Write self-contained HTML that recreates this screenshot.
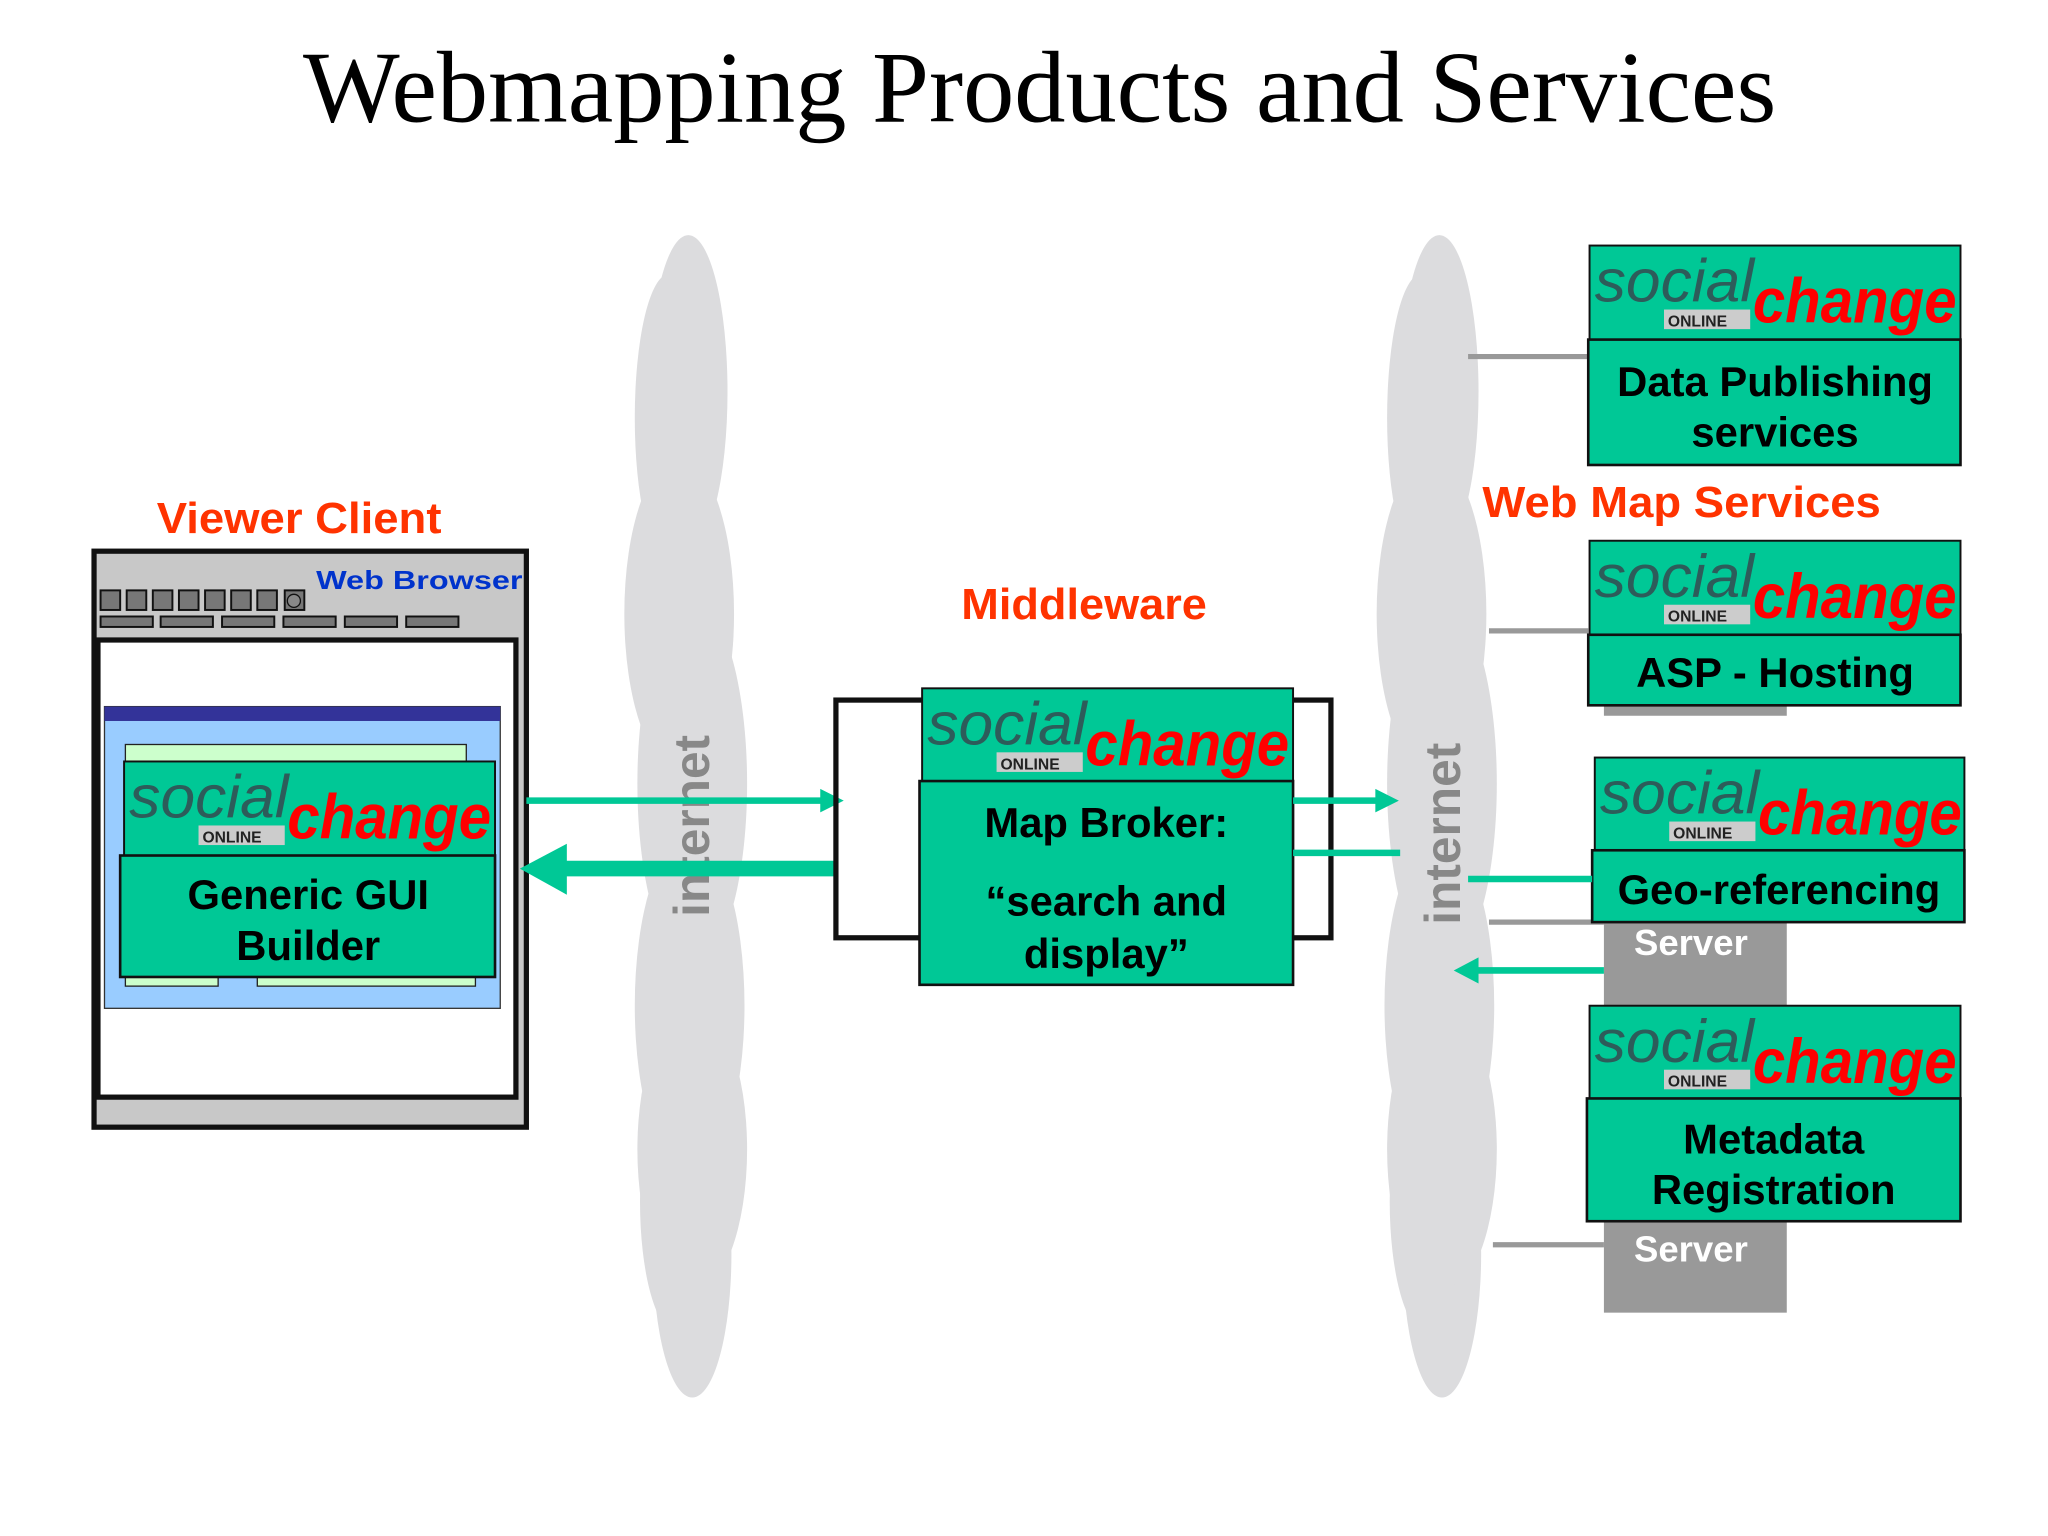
<!DOCTYPE html>
<html><head><meta charset="utf-8"><style>
html,body{margin:0;padding:0;background:#fff;}
svg{display:block;}
text{font-family:"Liberation Sans",sans-serif;}
.t{font-family:"Liberation Serif",serif;}
.lab{fill:#ff3300;font-weight:bold;font-size:33px;}
.bt{fill:#000;font-weight:bold;font-size:32px;text-anchor:middle;}
.so{fill:#2d5c5a;font-style:italic;font-size:46px;}
.ch{fill:#ff0000;font-style:italic;font-weight:bold;font-size:48px;}
.on{fill:#222;font-weight:bold;font-size:12px;}
.it{fill:#888;font-weight:bold;font-size:38px;}
.sv{fill:#fff;font-weight:bold;font-size:28px;}
</style></head><body>
<svg width="2048" height="1536" viewBox="0 0 1568 1176" xmlns="http://www.w3.org/2000/svg">
<rect width="1568" height="1176" fill="#fff"/>
<text class="t" x="232" y="93" font-size="78" textLength="1128" lengthAdjust="spacingAndGlyphs">Webmapping Products and Services</text>

<g fill="#dcdcde">
<ellipse cx="527" cy="300" rx="30" ry="120"/>
<ellipse cx="512" cy="320" rx="26" ry="110"/>
<ellipse cx="520" cy="470" rx="42" ry="120"/>
<ellipse cx="530" cy="600" rx="42" ry="140"/>
<ellipse cx="528" cy="770" rx="42" ry="130"/>
<ellipse cx="530" cy="880" rx="42" ry="110"/>
<ellipse cx="530" cy="960" rx="30" ry="110"/>
<ellipse cx="518" cy="920" rx="28" ry="100"/>
</g>
<g fill="#dcdcde">
<ellipse cx="1102" cy="300" rx="30" ry="120"/>
<ellipse cx="1088" cy="320" rx="26" ry="110"/>
<ellipse cx="1096" cy="470" rx="42" ry="120"/>
<ellipse cx="1104" cy="600" rx="42" ry="140"/>
<ellipse cx="1102" cy="770" rx="42" ry="130"/>
<ellipse cx="1104" cy="880" rx="42" ry="110"/>
<ellipse cx="1104" cy="960" rx="30" ry="110"/>
<ellipse cx="1092" cy="920" rx="28" ry="100"/>
</g>
<text class="it" transform="translate(543,702) rotate(-90)">internet</text>
<text class="it" transform="translate(1118,708) rotate(-90)">internet</text>

<text class="lab" x="120" y="408" textLength="218" lengthAdjust="spacingAndGlyphs">Viewer Client</text>
<rect x="72" y="422" width="331" height="441" fill="#c8c8c8" stroke="#111" stroke-width="4"/>
<g fill="#777" stroke="#111" stroke-width="1.5">
<rect x="77" y="452" width="15" height="15"/><rect x="97" y="452" width="15" height="15"/><rect x="117" y="452" width="15" height="15"/><rect x="137" y="452" width="15" height="15"/><rect x="157" y="452" width="15" height="15"/><rect x="177" y="452" width="15" height="15"/><rect x="197" y="452" width="15" height="15"/><rect x="218" y="452" width="15" height="15"/>
<rect x="77" y="472" width="40" height="8"/><rect x="123" y="472" width="40" height="8"/><rect x="170" y="472" width="40" height="8"/><rect x="217" y="472" width="40" height="8"/><rect x="264" y="472" width="40" height="8"/><rect x="311" y="472" width="40" height="8"/>
</g>
<circle cx="225" cy="460" r="5" fill="#888" stroke="#111"/>
<text x="242" y="451" fill="#0033cc" font-weight="bold" font-size="20" font-family="'DejaVu Sans',sans-serif" textLength="158" lengthAdjust="spacingAndGlyphs">Web Browser</text>
<rect x="75" y="490" width="320" height="350" fill="#fff" stroke="#111" stroke-width="4"/>
<rect x="80" y="541" width="303" height="231" fill="#99ccff" stroke="#333" stroke-width="1"/>
<rect x="80" y="541" width="303" height="11" fill="#333399"/>
<rect x="96" y="570" width="261" height="13" fill="#ccffcc" stroke="#222"/>
<rect x="96" y="745" width="71" height="10" fill="#ccffcc" stroke="#222"/>
<rect x="197" y="745" width="167" height="10" fill="#ccffcc" stroke="#222"/>
<rect x="95" y="583" width="284" height="72" fill="#00c896" stroke="#111" stroke-width="1.5"/>
<text class="so" x="99" y="626" textLength="122" lengthAdjust="spacingAndGlyphs">social</text>
<rect x="152" y="632" width="66" height="15" fill="#ccc"/><text class="on" x="155" y="645">ONLINE</text>
<text class="ch" x="220" y="642" textLength="156" lengthAdjust="spacingAndGlyphs">change</text>
<rect x="92" y="655" width="287" height="93" fill="#00c896" stroke="#111" stroke-width="2"/>
<text class="bt" x="236" y="696">Generic GUI</text>
<text class="bt" x="236" y="735">Builder</text>

<line x1="403" y1="613" x2="630" y2="613" stroke="#00c896" stroke-width="5"/>
<polygon points="628,604 646,613 628,622" fill="#00c896"/>
<line x1="430" y1="665" x2="640" y2="665" stroke="#00c896" stroke-width="12"/>
<polygon points="434,646 398,665 434,685" fill="#00c896"/>

<text class="lab" x="736" y="474" textLength="188" lengthAdjust="spacingAndGlyphs">Middleware</text>
<rect x="640" y="536" width="379" height="182" fill="none" stroke="#111" stroke-width="4"/>
<rect x="706" y="527" width="284" height="71" fill="#00c896" stroke="#111" stroke-width="1.5"/>
<text class="so" x="710" y="570" textLength="122" lengthAdjust="spacingAndGlyphs">social</text>
<rect x="763" y="576" width="66" height="15" fill="#ccc"/><text class="on" x="766" y="589">ONLINE</text>
<text class="ch" x="831" y="586" textLength="156" lengthAdjust="spacingAndGlyphs">change</text>
<rect x="704" y="598" width="286" height="156" fill="#00c896" stroke="#111" stroke-width="2"/>
<text class="bt" x="847" y="641">Map Broker:</text>
<text class="bt" x="847" y="701">“search and</text>
<text class="bt" x="847" y="741">display”</text>
<line x1="990" y1="613" x2="1055" y2="613" stroke="#00c896" stroke-width="5"/>
<polygon points="1053,604 1071,613 1053,622" fill="#00c896"/>
<line x1="990" y1="653" x2="1072" y2="653" stroke="#00c896" stroke-width="5"/>

<text class="lab" x="1135" y="396" textLength="305" lengthAdjust="spacingAndGlyphs">Web Map Services</text>
<g stroke="#999" stroke-width="4">
<line x1="1124" y1="273" x2="1216" y2="273"/>
<line x1="1140" y1="483" x2="1216" y2="483"/>
<line x1="1140" y1="706" x2="1228" y2="706"/>
<line x1="1143" y1="953" x2="1228" y2="953"/>
</g>
<rect x="1228" y="536" width="140" height="12" fill="#999"/>
<rect x="1228" y="700" width="140" height="70" fill="#999"/>
<rect x="1228" y="930" width="140" height="75" fill="#999"/>
<text class="sv" x="1251" y="731">Server</text>
<text class="sv" x="1251" y="966">Server</text>

<rect x="1217" y="188" width="284" height="72" fill="#00c896" stroke="#111" stroke-width="1.5"/>
<text class="so" x="1221" y="231" textLength="122" lengthAdjust="spacingAndGlyphs">social</text>
<rect x="1274" y="237" width="66" height="15" fill="#ccc"/><text class="on" x="1277" y="250">ONLINE</text>
<text class="ch" x="1342" y="247" textLength="156" lengthAdjust="spacingAndGlyphs">change</text>
<rect x="1216" y="260" width="285" height="96" fill="#00c896" stroke="#111" stroke-width="2"/>
<text class="bt" x="1359" y="303">Data Publishing</text>
<text class="bt" x="1359" y="342">services</text>

<rect x="1217" y="414" width="284" height="72" fill="#00c896" stroke="#111" stroke-width="1.5"/>
<text class="so" x="1221" y="457" textLength="122" lengthAdjust="spacingAndGlyphs">social</text>
<rect x="1274" y="463" width="66" height="15" fill="#ccc"/><text class="on" x="1277" y="476">ONLINE</text>
<text class="ch" x="1342" y="473" textLength="156" lengthAdjust="spacingAndGlyphs">change</text>
<rect x="1216" y="486" width="285" height="54" fill="#00c896" stroke="#111" stroke-width="2"/>
<text class="bt" x="1359" y="526">ASP - Hosting</text>

<rect x="1221" y="580" width="283" height="71" fill="#00c896" stroke="#111" stroke-width="1.5"/>
<text class="so" x="1225" y="623" textLength="122" lengthAdjust="spacingAndGlyphs">social</text>
<rect x="1278" y="629" width="66" height="15" fill="#ccc"/><text class="on" x="1281" y="642">ONLINE</text>
<text class="ch" x="1346" y="639" textLength="156" lengthAdjust="spacingAndGlyphs">change</text>
<rect x="1219" y="651" width="285" height="55" fill="#00c896" stroke="#111" stroke-width="2"/>
<text class="bt" x="1362" y="692">Geo-referencing</text>
<line x1="1124" y1="673" x2="1219" y2="673" stroke="#00c896" stroke-width="5"/>
<line x1="1130" y1="743" x2="1228" y2="743" stroke="#00c896" stroke-width="5"/>
<polygon points="1132,733 1113,743 1132,753" fill="#00c896"/>

<rect x="1217" y="770" width="284" height="71" fill="#00c896" stroke="#111" stroke-width="1.5"/>
<text class="so" x="1221" y="813" textLength="122" lengthAdjust="spacingAndGlyphs">social</text>
<rect x="1274" y="819" width="66" height="15" fill="#ccc"/><text class="on" x="1277" y="832">ONLINE</text>
<text class="ch" x="1342" y="829" textLength="156" lengthAdjust="spacingAndGlyphs">change</text>
<rect x="1215" y="841" width="286" height="94" fill="#00c896" stroke="#111" stroke-width="2"/>
<text class="bt" x="1358" y="883">Metadata</text>
<text class="bt" x="1358" y="922">Registration</text>
</svg>
</body></html>
